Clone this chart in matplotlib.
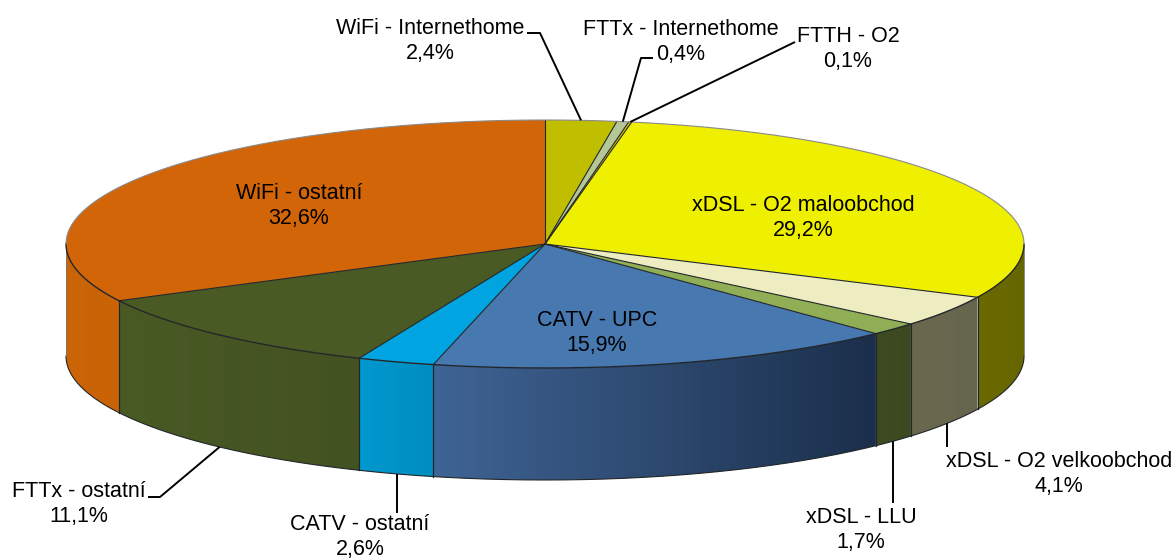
import numpy as np
import matplotlib
matplotlib.use("Agg")
import matplotlib.pyplot as plt
from matplotlib.colors import to_rgb
from matplotlib.patches import Polygon

# slices clockwise from 12 o'clock
names = ["WiFi - Internethome", "FTTx - Internethome", "FTTH - O2",
         "xDSL - O2 maloobchod", "xDSL - O2 velkoobchod", "xDSL - LLU",
         "CATV - UPC", "CATV - ostatní", "FTTx - ostatní", "WiFi - ostatní"]
shares = [2.4, 0.4, 0.1, 29.2, 4.1, 1.7, 15.9, 2.6, 11.1, 32.6]

top_colors = ["#BFBF00", "#B5C697", "#D8C400", "#EFEF00", "#EEEDC1", "#8FAE55",
              "#4878B0", "#00A4E0", "#4A5A24", "#D26507"]
wall_left = ["#BFBF00", "#B5C697", "#D8C400", "#6B6A00", "#6A6950", "#3F4B22",
             "#3F6495", "#0099CF", "#4A5A24", "#CC6408"]
wall_right = ["#BFBF00", "#B5C697", "#D8C400", "#666600", "#66654D", "#3C4820",
              "#1B2F4B", "#008DC0", "#435221", "#C96306"]

# label centres and leader elbows in pixels
label_pos = [(430, 41), (681, 42), (848, 49), (803, 218), (1059, 474),
             (861, 530), (597, 333), (360, 537), (79, 504), (299, 206)]
leaders = {0: [(527, 33), (540, 33)], 1: [(653, 58), (641, 58)], 2: [(795, 42)],
           4: [(947, 447)], 5: [(893, 503)], 7: [(397, 513)],
           8: [(148, 497), (160, 497)]}

CX, CY, RX, RY, DEPTH = 545, 244, 479, 124, 112
EDGE = "#22262a"

fig = plt.figure(figsize=(11.74, 5.59), dpi=100)
ax = fig.add_axes([0, 0, 1, 1])


def rim(deg, drop=0):
    a = np.radians(deg)
    return CX + RX * np.sin(a), CY - RY * np.cos(a) + drop


edges = np.concatenate([[0], np.cumsum(shares)]) / sum(shares) * 360

# outer wall, only the front half is visible
for i in range(len(shares)):
    a0, a1 = max(edges[i], 90), min(edges[i + 1], 270)
    if a1 <= a0:
        continue
    steps = np.linspace(a0, a1, max(int((a1 - a0) * 3), 2))
    xs, ys = rim(steps)
    xl, xr = xs.min(), xs.max()
    # horizontal gradient, clipped to the wall shape
    ramp = np.linspace(to_rgb(wall_left[i]), to_rgb(wall_right[i]), 200)[None, :, :]
    im = ax.imshow(ramp, extent=(xl, xr, 559, 0), aspect="auto", zorder=2,
                   interpolation="bilinear")
    outline = np.c_[np.r_[xs, xs[::-1]], np.r_[ys, ys[::-1] + DEPTH]]
    shape = Polygon(outline, closed=True, transform=ax.transData, fc="none", ec="none")
    ax.add_patch(shape)
    im.set_clip_path(shape)
    ax.plot(xs, ys + DEPTH, color=EDGE, lw=0.8, zorder=3)
    for a in (a0, a1):
        if 90 < a < 270:
            x, y = rim(a)
            ax.plot([x, x], [y, y + DEPTH], color=EDGE, lw=0.8, zorder=3)

# the two silhouette edges
for a in (90, 270):
    x, y = rim(a)
    ax.plot([x, x], [y, y + DEPTH], color="#777777", lw=0.6, zorder=3)

# top face
for i in range(len(shares)):
    steps = np.linspace(edges[i], edges[i + 1], max(int(shares[i] * 4), 3))
    xs, ys = rim(steps)
    ax.fill(np.r_[CX, xs], np.r_[CY, ys], facecolor=top_colors[i],
            edgecolor="none", zorder=4)

for a in edges[:-1]:
    x, y = rim(a)
    ax.plot([CX, x], [CY, y], color=EDGE, lw=0.8, zorder=4.5)

# rim of the top face: dark in front, grey at the back
steps = np.linspace(90, 270, 300)
ax.plot(*rim(steps), color=EDGE, lw=1.0, zorder=4.6)
steps = np.linspace(-90, 90, 300)
ax.plot(*rim(steps), color="#8a8a8a", lw=0.8, zorder=4.6)

# leader lines start from the rim at the middle of the slice
for i, pts in leaders.items():
    mid = (edges[i] + edges[i + 1]) / 2
    front = 90 < mid < 270
    ax_x, ax_y = rim(mid, DEPTH if front else 0)
    xs = [p[0] for p in pts] + [ax_x]
    ys = [p[1] for p in pts] + [ax_y]
    if len(pts) == 1 and front:
        xs[-1] = xs[0]
    ax.plot(xs, ys, color="black", lw=1.4, solid_capstyle="butt", zorder=5)

for i, (x, y) in enumerate(label_pos):
    label = f"{names[i]}\n{shares[i]:.1f}%".replace(".", ",")
    ax.text(x, y, label, ha="center", va="center", family="Liberation Sans",
            fontsize=15.5, linespacing=1.3, color="black", zorder=6)

ax.set_xlim(0, 1174)
ax.set_ylim(559, 0)
ax.axis("off")

fig.savefig("out.png", dpi=100)
